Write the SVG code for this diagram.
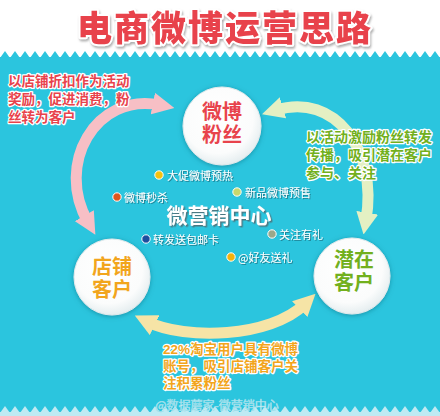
<svg xmlns="http://www.w3.org/2000/svg" width="440" height="416" viewBox="0 0 440 416">
<defs>
<style>
.cjk{font-family:"Noto Sans CJK SC","Noto Sans",sans-serif}
.mix{font-family:"Liberation Sans","Noto Sans CJK SC",sans-serif}
.title{font-size:35px;font-weight:900;fill:#e8434c;stroke:#fff;stroke-width:4;paint-order:stroke;stroke-linejoin:round;letter-spacing:2px}
.note{font-size:13.5px;font-weight:700;stroke:#fff;stroke-width:2.5;paint-order:stroke;stroke-linejoin:round}
.red{fill:#e8434c}
.green{fill:#72b01d}
.orange{fill:#f2a51c}
.node-text{font-size:20px;font-weight:700;text-anchor:middle}
.bullet{font-size:11px;fill:#fff}
.center{font-size:21px;font-weight:700;fill:#fff}
.band{fill:none;stroke-width:11}
.disc{fill:url(#disc);stroke:#e3eaec;stroke-width:1}
.dot{stroke:#fff;stroke-width:1}
</style>
<radialGradient id="disc" cx="0.45" cy="0.4" r="0.6">
<stop offset="0" stop-color="#ffffff"/>
<stop offset="0.75" stop-color="#fbfcfc"/>
<stop offset="1" stop-color="#e6eef0"/>
</radialGradient>
<filter id="shadow" x="-30%" y="-30%" width="160%" height="160%">
<feDropShadow dx="0" dy="1" stdDeviation="2.5" flood-color="#0b6274" flood-opacity="0.5"/>
</filter>
<filter id="tshadow" x="-10%" y="-20%" width="120%" height="150%">
<feDropShadow dx="1" dy="2" stdDeviation="0.8" flood-color="#777" flood-opacity="0.6"/>
</filter>
<filter id="wshadow" x="-10%" y="-20%" width="120%" height="150%">
<feDropShadow dx="1" dy="1" stdDeviation="0.6" flood-color="#1f6f80" flood-opacity="0.8"/>
</filter>
<filter id="cshadow" x="-10%" y="-20%" width="120%" height="150%">
<feDropShadow dx="1.5" dy="1.5" stdDeviation="0.5" flood-color="#4d6f78" flood-opacity="0.9"/>
</filter>
<pattern id="zzTop" width="10" height="8" patternUnits="userSpaceOnUse" x="0" y="50">
<polygon points="0,8 5,1 10,8" fill="#2bc5de"/>
</pattern>
<pattern id="zzBot" width="10" height="8" patternUnits="userSpaceOnUse" x="0" y="405">
<polygon points="0,8 5,1 10,8" fill="#bfeaf3"/>
</pattern>
<marker id="hPink" viewBox="0 0 12 12" refX="4" refY="6" markerWidth="22" markerHeight="22" markerUnits="userSpaceOnUse" orient="auto-start-reverse">
<path d="M0,0 L12,6 L0,12 z" fill="#f7bfc5"/>
</marker>
<marker id="hGreen" viewBox="0 0 12 12" refX="4" refY="6" markerWidth="22" markerHeight="22" markerUnits="userSpaceOnUse" orient="auto-start-reverse">
<path d="M0,0 L12,6 L0,12 z" fill="#e4f0c3"/>
</marker>
<marker id="hYellow" viewBox="0 0 12 12" refX="4" refY="6" markerWidth="22" markerHeight="22" markerUnits="userSpaceOnUse" orient="auto-start-reverse">
<path d="M0,0 L12,6 L0,12 z" fill="#f6e4a6"/>
</marker>
</defs>

<g id="background">
<rect x="0" y="0" width="440" height="416" fill="#ffffff"/>
<rect x="0" y="57" width="440" height="359" fill="#2bc5de"/>
<rect x="0" y="50" width="440" height="8" fill="url(#zzTop)"/>
<rect x="0" y="405" width="440" height="8" fill="url(#zzBot)"/>
<rect x="0" y="412" width="440" height="4" fill="#bfeaf3"/>
</g>

<g id="title">
<text class="cjk title" x="225" y="41" text-anchor="middle" filter="url(#tshadow)">电商微博运营思路</text>
</g>

<g id="connectors">
<path class="band" d="M160,105 C95,92 55,165 88,222" stroke="#f7bfc5" marker-start="url(#hPink)" marker-end="url(#hPink)"/>
<path class="band" d="M276,110 C335,92 378,150 366,220" stroke="#e4f0c3" marker-start="url(#hGreen)" marker-end="url(#hGreen)"/>
<path class="band" d="M148,322 C185,340 270,338 305,304" stroke="#f6e4a6" marker-start="url(#hYellow)" marker-end="url(#hYellow)"/>
</g>

<g id="note-left">
<text class="mix note red"><tspan x="8" y="86">以店铺折扣作为活动</tspan><tspan x="8" y="104">奖励，促进消费，粉</tspan><tspan x="8" y="122">丝转为客户</tspan></text>
</g>
<g id="note-right">
<text class="mix note green" style="font-size:14px"><tspan x="306" y="142">以活动激励粉丝转发</tspan><tspan x="306" y="160">传播，吸引潜在客户</tspan><tspan x="306" y="178">参与、关注</tspan></text>
</g>
<g id="note-bottom">
<text class="mix note orange"><tspan x="163" y="354">22%淘宝用户具有微博</tspan><tspan x="163" y="371">账号，吸引店铺客户关</tspan><tspan x="163" y="388">注积累粉丝</tspan></text>
</g>

<g id="node-fans">
<circle class="disc" cx="222" cy="126" r="39" filter="url(#shadow)"/>
<text class="mix node-text red"><tspan x="222" y="119">微博</tspan><tspan x="222" y="142">粉丝</tspan></text>
</g>
<g id="node-store">
<circle class="disc" cx="112" cy="277" r="38" filter="url(#shadow)"/>
<text class="mix node-text orange"><tspan x="112" y="274">店铺</tspan><tspan x="112" y="297">客户</tspan></text>
</g>
<g id="node-potential">
<circle class="disc" cx="352" cy="276" r="38" filter="url(#shadow)"/>
<text class="mix node-text green"><tspan x="354" y="267">潜在</tspan><tspan x="354" y="290">客户</tspan></text>
</g>

<g id="center">
<text class="cjk center" x="219" y="223" text-anchor="middle" filter="url(#cshadow)">微营销中心</text>
</g>

<g id="bullets">
<g id="b1"><circle class="dot" cx="159" cy="175" r="4.2" fill="#f5c20f"/><text class="cjk bullet" x="167" y="180" filter="url(#wshadow)">大促微博预热</text></g>
<g id="b2"><circle class="dot" cx="237" cy="192" r="4.2" fill="#c8d86c"/><text class="cjk bullet" x="245" y="197" filter="url(#wshadow)">新品微博预售</text></g>
<g id="b3"><circle class="dot" cx="117" cy="197" r="4.2" fill="#e0561c"/><text class="cjk bullet" x="124" y="202" filter="url(#wshadow)">微博秒杀</text></g>
<g id="b4"><circle class="dot" cx="146" cy="239" r="4.2" fill="#1d4f9e"/><text class="cjk bullet" x="153" y="244" filter="url(#wshadow)">转发送包邮卡</text></g>
<g id="b5"><circle class="dot" cx="272" cy="234" r="4.2" fill="#9aa88a"/><text class="cjk bullet" x="279" y="239" filter="url(#wshadow)">关注有礼</text></g>
<g id="b6"><circle class="dot" cx="231" cy="257" r="4.2" fill="#f4b20a"/><text class="cjk bullet" x="238" y="262" filter="url(#wshadow)">@好友送礼</text></g>
</g>

<g id="watermark">
<text class="cjk" x="217" y="410" text-anchor="middle" style="font-size:12px;fill:#ffffff;fill-opacity:0.85;stroke:#8fdbe9;stroke-width:0.5">@数据蘑家-微营销中心</text>
</g>
</svg>
